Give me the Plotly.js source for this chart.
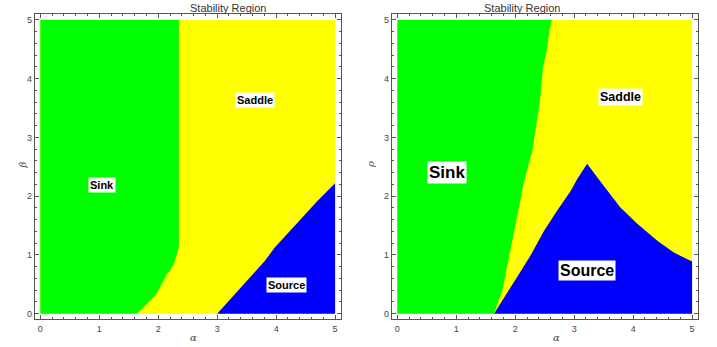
<!DOCTYPE html>
<html>
<head>
<meta charset="utf-8">
<script src="https://cdn.plot.ly/plotly-3.0.1.min.js"></script>
<style>html,body{margin:0;padding:0;background:#fff;}#chart{width:717px;height:347px;}</style>
</head>
<body>
<div id="chart"></div>
<script>
// Parameter domain
const alphaRange = [0, 5];
const paramRange = [0, 5];
const tickValues = [0, 1, 2, 3, 4, 5];
const tickLabels = ["0", "1", "2", "3", "4", "5"];

// Left panel (alpha, beta): sink / source boundaries
const sinkBoundAlpha1 = [1.64, 1.73, 1.81, 1.88, 1.95, 2.01, 2.06, 2.11, 2.15, 2.20, 2.23, 2.27, 2.29, 2.33, 2.35, 2.35];
const sinkBoundBeta1  = [0.00, 0.09, 0.17, 0.24, 0.31, 0.41, 0.51, 0.60, 0.68, 0.73, 0.79, 0.86, 0.93, 1.05, 1.13, 5.00];
const sourceBoundAlpha1 = [3.00, 3.25, 3.56, 3.80, 3.98, 4.20, 4.45, 4.70, 5.00];
const sourceBoundBeta1  = [0.00, 0.28, 0.62, 0.89, 1.13, 1.37, 1.63, 1.92, 2.22];

// Right panel (alpha, rho)
const sinkBoundAlpha2 = [1.64, 1.78, 1.86, 1.95, 2.06, 2.15, 2.29, 2.37, 2.42, 2.47, 2.54, 2.57, 2.62];
const sinkBoundRho2   = [0.00, 0.39, 0.79, 1.30, 1.81, 2.25, 2.77, 3.28, 3.62, 4.19, 4.50, 4.76, 5.00];
const sourceBoundAlpha2 = [1.64, 1.81, 2.03, 2.26, 2.49, 2.71, 2.94, 3.05, 3.22, 3.39, 3.56, 3.78, 4.07, 4.41, 4.69, 5.00];
const sourceBoundRho2   = [0.00, 0.28, 0.62, 0.99, 1.41, 1.75, 2.09, 2.29, 2.55, 2.32, 2.09, 1.81, 1.53, 1.24, 1.04, 0.89];

// Region labels
const labelText = ["Sink", "Saddle", "Source"];
const labelAlpha1 = [1.05, 3.64, 4.18];
const labelBeta1  = [2.19, 3.64, 0.49];
const labelAlpha2 = [0.85, 3.78, 3.22];
const labelRho2   = [2.40, 3.68, 0.73];
const labelSize1 = [11, 11, 11];
const labelSize2 = [17, 12.5, 16];

const GREEN = "#00ff00", YELLOW = "#ffff00", BLUE = "#0000ff";
const [a0, a1] = alphaRange, [p0, p1] = paramRange;

function region(xs, ys, color, xa, ya) {
  return {type: "scatter", mode: "lines", x: xs, y: ys, fill: "toself", fillcolor: color,
          line: {width: 0, color: color}, hoverinfo: "skip", showlegend: false, xaxis: xa, yaxis: ya};
}

const traces = [];
// left
traces.push(region([a0, a1, a1, a0, a0], [p0, p0, p1, p1, p0], YELLOW, "x", "y"));
traces.push(region([a0].concat(sinkBoundAlpha1, [a0, a0]), [p0].concat(sinkBoundBeta1, [p1, p0]), GREEN, "x", "y"));
traces.push(region(sourceBoundAlpha1.concat([a1, sourceBoundAlpha1[0]]), sourceBoundBeta1.concat([p0, p0]), BLUE, "x", "y"));
// right
traces.push(region([a0, a1, a1, a0, a0], [p0, p0, p1, p1, p0], YELLOW, "x2", "y2"));
traces.push(region([a0].concat(sinkBoundAlpha2, [a0, a0]), [p0].concat(sinkBoundRho2, [p1, p0]), GREEN, "x2", "y2"));
traces.push(region(sourceBoundAlpha2.concat([a1, sourceBoundAlpha2[0]]), sourceBoundRho2.concat([p0, p0]), BLUE, "x2", "y2"));

const ann = [];
for (let i = 0; i < labelText.length; i++) {
  ann.push({xref: "x", yref: "y", x: labelAlpha1[i], y: labelBeta1[i], text: "<b>" + labelText[i] + "</b>",
    showarrow: false, bgcolor: "#ffffff", borderpad: 1,
    font: {family: "Liberation Sans, Arial, sans-serif", size: labelSize1[i], color: "#000"}});
  ann.push({xref: "x2", yref: "y2", x: labelAlpha2[i], y: labelRho2[i], text: "<b>" + labelText[i] + "</b>",
    showarrow: false, bgcolor: "#ffffff", borderpad: 1,
    font: {family: "Liberation Sans, Arial, sans-serif", size: labelSize2[i], color: "#000"}});
}
const gray = "#555";
const tfont = {family: "Liberation Sans, Arial, sans-serif", size: 11, color: "#333"};
// titles and axis labels
ann.push({xref: "paper", yref: "paper", x: 0.262, y: 1.0, yanchor: "top", text: "Stability Region", showarrow: false, font: tfont});
ann.push({xref: "paper", yref: "paper", x: 0.784, y: 1.0, yanchor: "top", text: "Stability Region", showarrow: false, font: tfont});
const afont = {family: "DejaVu Serif, serif", size: 10, color: "#444"};
ann.push({xref: "paper", yref: "paper", x: 0.262, y: 0.005, yanchor: "bottom", text: "<i>α</i>", showarrow: false, font: afont});
ann.push({xref: "paper", yref: "paper", x: 0.784, y: 0.005, yanchor: "bottom", text: "<i>α</i>", showarrow: false, font: afont});
ann.push({xref: "paper", yref: "paper", x: 14/717, y: 1 - 165/347, text: "<i>β</i>", textangle: -90, showarrow: false, font: afont});
ann.push({xref: "paper", yref: "paper", x: 370/717, y: 1 - 165/347, text: "<i>ρ</i>", textangle: -90, showarrow: false, font: afont});

function axis(domain, anchor) {
  return {domain: domain, anchor: anchor, range: [-0.09, 5.1], tickvals: tickValues, ticktext: tickLabels,
    ticks: "inside", ticklen: 4, tickwidth: 1, tickcolor: gray, mirror: "allticks",
    showline: true, linecolor: gray, linewidth: 1.2, showgrid: false, zeroline: false,
    tickfont: {family: "Liberation Sans, Arial, sans-serif", size: 9, color: "#444"},
    minor: {dtick: 0.2, ticks: "inside", ticklen: 2, tickcolor: gray, showgrid: false},
    fixedrange: true};
}
const yd = [1 - 319/347, 1 - 14/347];
const layout = {
  width: 717, height: 347, margin: {l: 0, r: 0, t: 0, b: 0},
  paper_bgcolor: "#fff", plot_bgcolor: "#fff", showlegend: false,
  xaxis: axis([35/717, 341/717], "y"),
  yaxis: axis(yd, "x"),
  xaxis2: axis([392/717, 698/717], "y2"),
  yaxis2: axis(yd, "x2"),
  annotations: ann
};
layout.xaxis.ticklabelstandoff = 1;
layout.xaxis2.ticklabelstandoff = 1;
Plotly.newPlot("chart", traces, layout, {staticPlot: true});
</script>
</body>
</html>
